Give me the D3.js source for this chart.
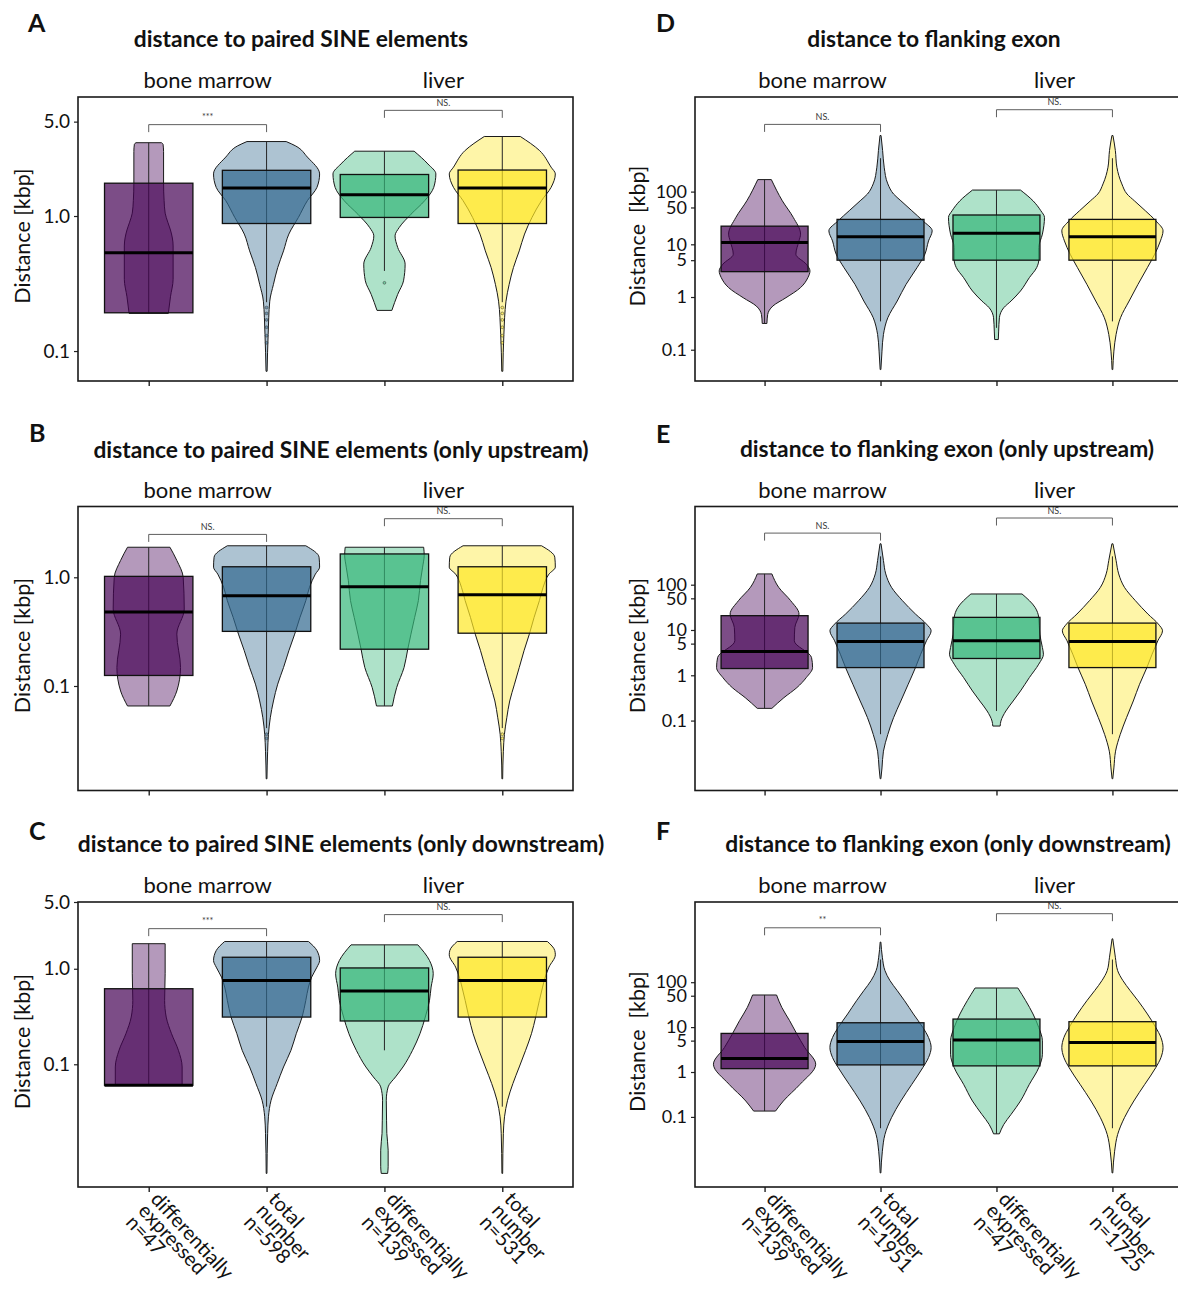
<!DOCTYPE html>
<html>
<head>
<meta charset="utf-8">
<script src="https://cdn.jsdelivr.net/npm/d3@7"></script>
<style>
  body { margin: 0; background: #fff; }
  svg text { font-family: Lato, "Open Sans", sans-serif; fill: #111; }
</style>
</head>
<body>
<svg id="fig" width="1178" height="1290"></svg>
<script>
// ---------------- data ----------------
const groupColors = ["#440154", "#31688E", "#35B779", "#FDE725"];
const tissues = ["bone marrow", "liver"];
const groups = ["bm_de", "bm_total", "liver_de", "liver_total"];

const xLabelsSINE = [
  ["differentially", "expressed", "n=47"],
  ["total", "number", "n=598"],
  ["differentially", "expressed", "n=139"],
  ["total", "number", "n=531"]
];
const xLabelsExon = [
  ["differentially", "expressed", "n=139"],
  ["total", "number", "n=1951"],
  ["differentially", "expressed", "n=47"],
  ["total", "number", "n=1725"]
];

const yTicksSINE = [0.1, 1.0, 5.0];
const yTicksSINEUp = [0.1, 1.0];
const yTicksExon = [0.1, 1, 5, 10, 50, 100];

// box statistics per group, kbp: [lower whisker, Q1, median, Q3, upper whisker]
const boxA = [[0.19, 0.192, 0.535, 1.75, 3.49], [0.23, 0.88, 1.61, 2.18, 3.56], [0.392, 0.976, 1.44, 2.03, 3.02], [0.23, 0.88, 1.61, 2.19, 3.88]];
const boxB = [[0.0655, 0.125, 0.48, 1.02, 1.89], [0.041, 0.318, 0.677, 1.25, 1.95], [0.0655, 0.218, 0.82, 1.64, 1.89], [0.041, 0.306, 0.69, 1.25, 1.95]];
const boxC = [[0.0603, 0.0603, 0.0603, 0.618, 1.83], [0.036, 0.312, 0.755, 1.32, 1.93], [0.14, 0.284, 0.585, 1.02, 1.78], [0.036, 0.312, 0.755, 1.32, 1.93]];
const boxD = [[0.315, 3.03, 10.8, 22.1, 169], [0.345, 5.0, 13.9, 29.7, 430], [0.26, 5.0, 16.3, 36, 107], [0.345, 5.0, 13.9, 29.7, 430]];
const boxE = [[0.186, 1.41, 3.35, 20.7, 173], [0.05, 1.48, 5.57, 14.2, 422], [0.163, 2.35, 5.78, 19, 62.4], [0.05, 1.48, 5.57, 14.2, 422]];
const boxF = [[0.135, 1.19, 2.0, 7.24, 51.9], [0.056, 1.44, 4.78, 12.5, 320], [0.042, 1.37, 5.13, 15.1, 74.3], [0.056, 1.37, 4.54, 13.2, 320]];

// violin outlines per group: [distance kbp, relative density]
const violinA = [
  [[3.49, 0.24], [3.4, 0.27], [3.0, 0.28], [1.75, 0.28], [1.3, 0.29], [1.05, 0.31], [0.9, 0.36], [0.788, 0.41], [0.6, 0.46], [0.34, 0.46], [0.252, 0.41], [0.19, 0.37]],
  [[3.56, 0.37], [3.3, 0.55], [2.73, 0.77], [2.05, 1.0], [1.63, 0.95], [1.30, 0.77], [0.976, 0.6], [0.735, 0.42], [0.552, 0.32], [0.415, 0.21], [0.312, 0.13], [0.234, 0.06], [0.133, 0.03], [0.0708, 0.01]],
  [[3.02, 0.56], [2.43, 0.82], [2.05, 0.97], [1.63, 0.93], [1.30, 0.76], [1.03, 0.5], [0.823, 0.28], [0.713, 0.2], [0.585, 0.25], [0.44, 0.39], [0.331, 0.36], [0.263, 0.25], [0.2, 0.14]],
  [[3.88, 0.34], [3.06, 0.7], [2.3, 0.92], [2.05, 1.0], [1.63, 0.92], [1.30, 0.74], [0.976, 0.56], [0.735, 0.42], [0.552, 0.32], [0.415, 0.21], [0.312, 0.13], [0.234, 0.07], [0.133, 0.03], [0.0708, 0.01]]
];
const violinB = [
  [[1.89, 0.40], [1.43, 0.53], [1.0, 0.65], [0.511, 0.67], [0.30, 0.53], [0.148, 0.6], [0.09, 0.53], [0.0655, 0.40]],
  [[1.95, 0.74], [1.53, 0.99], [1.24, 1.0], [1.07, 0.92], [0.81, 0.81], [0.61, 0.74], [0.428, 0.63], [0.30, 0.53], [0.211, 0.42], [0.148, 0.32], [0.104, 0.21], [0.0728, 0.13], [0.051, 0.07], [0.0359, 0.035], [0.0251, 0.02], [0.014, 0.007]],
  [[1.89, 0.74], [1.6, 0.75], [1.24, 0.72], [0.93, 0.68], [0.61, 0.64], [0.428, 0.57], [0.30, 0.5], [0.218, 0.44], [0.148, 0.37], [0.0966, 0.23], [0.0655, 0.15]],
  [[1.95, 0.74], [1.53, 0.99], [1.24, 1.0], [1.07, 0.88], [0.81, 0.77], [0.61, 0.7], [0.428, 0.6], [0.30, 0.51], [0.211, 0.41], [0.148, 0.32], [0.104, 0.23], [0.0728, 0.14], [0.051, 0.085], [0.0359, 0.04], [0.0251, 0.02], [0.014, 0.007]]
];
const violinC = [
  [[1.83, 0.31], [0.887, 0.31], [0.467, 0.3], [0.312, 0.33], [0.209, 0.43], [0.14, 0.56], [0.0937, 0.63], [0.0603, 0.63]],
  [[1.93, 0.79], [1.55, 0.95], [1.22, 1.0], [1.04, 0.95], [0.818, 0.85], [0.643, 0.79], [0.467, 0.74], [0.312, 0.67], [0.209, 0.56], [0.14, 0.46], [0.0937, 0.32], [0.0628, 0.2], [0.042, 0.085], [0.0282, 0.035], [0.0189, 0.02], [0.0072, 0.007]],
  [[1.78, 0.63], [1.22, 0.85], [0.887, 0.92], [0.643, 0.88], [0.467, 0.85], [0.312, 0.77], [0.209, 0.67], [0.14, 0.53], [0.0937, 0.35], [0.0738, 0.21], [0.058, 0.07], [0.042, 0.035], [0.026, 0.04], [0.0189, 0.045], [0.0126, 0.07], [0.00845, 0.07], [0.0072, 0.06]],
  [[1.93, 0.85], [1.55, 0.99], [1.40, 1.0], [1.04, 0.88], [0.818, 0.81], [0.643, 0.76], [0.467, 0.7], [0.312, 0.63], [0.209, 0.55], [0.14, 0.44], [0.0937, 0.32], [0.0628, 0.2], [0.042, 0.1], [0.0282, 0.042], [0.0189, 0.02], [0.0072, 0.007]]
];
const violinD = [
  [[169, 0.13], [67, 0.34], [32.4, 0.55], [15.6, 0.69], [11.6, 0.66], [6.49, 0.6], [4.19, 0.8], [3.13, 0.87], [2.33, 0.83], [1.51, 0.69], [0.97, 0.41], [0.676, 0.16], [0.468, 0.06], [0.315, 0.045]],
  [[1160, 0.01], [602, 0.04], [290, 0.07], [140, 0.14], [90, 0.25], [67, 0.39], [43.4, 0.6], [28, 0.81], [18, 0.99], [11.6, 0.92], [6.49, 0.85], [3.61, 0.7], [1.74, 0.49], [0.84, 0.32], [0.405, 0.14], [0.195, 0.056], [0.094, 0.028], [0.042, 0.007]],
  [[107, 0.46], [67, 0.7], [43.4, 0.85], [32.4, 0.92], [15.6, 0.88], [8.7, 0.81], [5.0, 0.81], [3.61, 0.77], [2.33, 0.63], [1.3, 0.46], [0.84, 0.28], [0.627, 0.14], [0.405, 0.056], [0.226, 0.042], [0.156, 0.035]],
  [[1160, 0.01], [602, 0.056], [290, 0.085], [140, 0.18], [90, 0.28], [67, 0.42], [43.4, 0.63], [28, 0.83], [18, 0.97], [11.6, 0.92], [6.49, 0.81], [3.61, 0.67], [1.74, 0.49], [0.84, 0.32], [0.405, 0.155], [0.195, 0.07], [0.094, 0.028], [0.042, 0.007]]
];
const violinE = [
  [[173, 0.14], [87.6, 0.27], [44.4, 0.5], [22.5, 0.66], [11.4, 0.58], [5.78, 0.57], [2.47, 0.9], [1.48, 0.92], [0.89, 0.8], [0.535, 0.62], [0.32, 0.37], [0.186, 0.14]],
  [[800, 0.01], [342, 0.056], [173, 0.1], [87.6, 0.21], [44.4, 0.42], [22.5, 0.67], [13.5, 0.88], [9.6, 0.97], [5.78, 0.88], [2.92, 0.77], [1.48, 0.67], [0.633, 0.53], [0.271, 0.39], [0.116, 0.25], [0.0496, 0.14], [0.0211, 0.056], [0.009, 0.028], [0.0052, 0.007]],
  [[62.4, 0.49], [31.5, 0.74], [19, 0.81], [8.1, 0.83], [4.11, 0.88], [2.92, 0.9], [1.76, 0.81], [0.89, 0.63], [0.45, 0.46], [0.271, 0.32], [0.163, 0.18], [0.0975, 0.085], [0.0757, 0.07]],
  [[800, 0.01], [342, 0.07], [173, 0.12], [87.6, 0.23], [44.4, 0.44], [22.5, 0.68], [13.5, 0.88], [9.6, 0.96], [5.78, 0.87], [2.92, 0.76], [1.48, 0.66], [0.633, 0.52], [0.271, 0.4], [0.116, 0.27], [0.0496, 0.15], [0.0211, 0.06], [0.009, 0.028], [0.0052, 0.007]]
];
const violinF = [
  [[51.9, 0.23], [27.5, 0.33], [13.9, 0.48], [6.98, 0.62], [3.51, 0.77], [1.49, 0.98], [0.532, 0.68], [0.226, 0.36], [0.135, 0.21]],
  [[782, 0.007], [360, 0.035], [181, 0.085], [109, 0.18], [65, 0.32], [38.7, 0.46], [19.6, 0.63], [9.84, 0.81], [5.86, 0.92], [3.51, 0.97], [2.1, 0.92], [1.25, 0.81], [0.532, 0.6], [0.226, 0.39], [0.096, 0.21], [0.0407, 0.085], [0.0172, 0.035], [0.00566, 0.007]],
  [[74.3, 0.41], [38.7, 0.56], [19.6, 0.7], [9.84, 0.81], [4.95, 0.88], [2.49, 0.88], [1.25, 0.81], [0.532, 0.63], [0.226, 0.46], [0.114, 0.28], [0.068, 0.14], [0.042, 0.056]],
  [[926, 0.007], [360, 0.056], [181, 0.1], [109, 0.2], [65, 0.34], [38.7, 0.49], [19.6, 0.67], [9.84, 0.83], [5.86, 0.93], [3.51, 0.97], [2.1, 0.93], [1.25, 0.83], [0.532, 0.62], [0.226, 0.41], [0.096, 0.23], [0.0407, 0.1], [0.0172, 0.042], [0.00566, 0.007]]
];

// outlying observations per group, kbp
const outliersA = [[], [0.21, 0.19, 0.17, 0.15, 0.13, 0.115], [0.32], [0.21, 0.19, 0.17, 0.15, 0.13, 0.115]];
const outliersB = [[], [0.036, 0.033], [], [0.036, 0.033]];

// significance brackets: [group i, group j, height kbp, label]
const sigA = [[0, 1, 4.75, "***"], [2, 3, 6.06, "NS."]];
const sigB = [[0, 1, 2.48, "NS."], [2, 3, 3.46, "NS."]];
const sigC = [[0, 1, 2.63, "***"], [2, 3, 3.69, "NS."]];
const sigD = [[0, 1, 1884, "NS."], [2, 3, 3580, "NS."]];
const sigE = [[0, 1, 1377, "NS."], [2, 3, 2966, "NS."]];
const sigF = [[0, 1, 1628, "**"], [2, 3, 3355, "NS."]];

// ---------------- layout ----------------
const fmtSINE = d3.format(".1f");
const fmtExon = d => d < 1 ? d3.format(".1f")(d) : d3.format("d")(d);

const panels = [
  { letter: "A", title: "distance to paired SINE elements", box: boxA, violin: violinA, out: outliersA, sig: sigA,
    ticks: yTicksSINE, fmt: fmtSINE, tickSize: 19, domain: [0.06, 7.61], x0: 78, x1: 573, top: 97, bottom: 381,
    letterPos: [28, 32], titlePos: [301, 47], yTitle: "Distance [kbp]", yTitleX: 30 },
  { letter: "B", title: "distance to paired SINE elements (only upstream)", box: boxB, violin: violinB, out: outliersB, sig: sigB,
    ticks: yTicksSINEUp, fmt: fmtSINE, tickSize: 19, domain: [0.01093, 4.48], x0: 78, x1: 573, top: 506.5, bottom: 790.5,
    letterPos: [29, 442], titlePos: [341, 458], yTitle: "Distance [kbp]", yTitleX: 30 },
  { letter: "C", title: "distance to paired SINE elements (only downstream)", box: boxC, violin: violinC, out: null, sig: sigC,
    ticks: yTicksSINE, fmt: fmtSINE, tickSize: 19, domain: [0.00519, 5.0], x0: 78, x1: 573, top: 902, bottom: 1187,
    letterPos: [29, 840], titlePos: [341, 852], yTitle: "Distance [kbp]", yTitleX: 30, xLabels: xLabelsSINE },
  { letter: "D", title: "distance to flanking exon", box: boxD, violin: violinD, out: null, sig: sigD,
    ticks: yTicksExon, fmt: fmtExon, tickSize: 18, domain: [0.0255, 6237], x0: 695, x1: 1182, top: 97, bottom: 381,
    letterPos: [656, 32], titlePos: [934, 47], yTitle: "Distance  [kbp]", yTitleX: 645 },
  { letter: "E", title: "distance to flanking exon (only upstream)", box: boxE, violin: violinE, out: null, sig: sigE,
    ticks: yTicksExon, fmt: fmtExon, tickSize: 18, domain: [0.00286, 5325], x0: 695, x1: 1182, top: 506.5, bottom: 790.5,
    letterPos: [656, 443], titlePos: [947, 457], yTitle: "Distance [kbp]", yTitleX: 645 },
  { letter: "F", title: "distance to flanking exon (only downstream)", box: boxF, violin: violinF, out: null, sig: sigF,
    ticks: yTicksExon, fmt: fmtExon, tickSize: 18, domain: [0.00275, 6110], x0: 695, x1: 1182, top: 902, bottom: 1187,
    letterPos: [656, 840], titlePos: [948, 852], yTitle: "Distance  [kbp]", yTitleX: 645, xLabels: xLabelsExon }
];

const svg = d3.select("#fig");

panels.forEach(p => {
  const g = svg.append("g");
  const x = d3.scalePoint().domain(groups).range([p.x0, p.x1]).padding(0.6);
  const y = d3.scaleLog().domain(p.domain).range([p.bottom, p.top]);
  const step = x.step();
  const maxHalf = step * 0.45;
  const boxW = step * 0.75;

  // panel letter and title
  g.append("text").attr("x", p.letterPos[0]).attr("y", p.letterPos[1])
    .attr("font-size", 25).attr("font-weight", 700).text(p.letter);
  g.append("text").attr("x", p.titlePos[0]).attr("y", p.titlePos[1])
    .attr("text-anchor", "middle").attr("font-size", 22.8).attr("font-weight", 700).text(p.title);

  // facet strip labels
  tissues.forEach((t, i) => {
    const cx = (x(groups[2 * i]) + x(groups[2 * i + 1])) / 2;
    g.append("text").attr("x", cx).attr("y", p.top - 9)
      .attr("text-anchor", "middle").attr("font-size", 22).text(t);
  });

  // clip plot contents to the panel
  const clipId = "clip" + p.letter;
  g.append("clipPath").attr("id", clipId).append("rect")
    .attr("x", p.x0).attr("y", p.top).attr("width", p.x1 - p.x0).attr("height", p.bottom - p.top);
  const plot = g.append("g").attr("clip-path", `url(#${clipId})`);

  // violins
  groups.forEach((k, i) => {
    const cx = x(k);
    const prof = p.violin[i].slice().sort((a, b) => b[0] - a[0]);
    const area = d3.area().curve(d3.curveMonotoneY)
      .y(d => y(d[0]))
      .x0(d => cx - d[1] * maxHalf)
      .x1(d => cx + d[1] * maxHalf);
    plot.append("path").attr("d", area(prof))
      .attr("fill", groupColors[i]).attr("fill-opacity", 0.4)
      .attr("stroke", "#1a1a1a").attr("stroke-width", 1);
  });

  // whiskers, outliers and boxes
  groups.forEach((k, i) => {
    const cx = x(k);
    const [lo, q1, med, q3, hi] = p.box[i];
    plot.append("line").attr("x1", cx).attr("x2", cx).attr("y1", y(hi)).attr("y2", y(lo))
      .attr("stroke", "#262626").attr("stroke-width", 1);
    if (p.out) {
      p.out[i].forEach(v => {
        plot.append("circle").attr("cx", cx).attr("cy", y(v)).attr("r", 1.4)
          .attr("fill", groupColors[i]).attr("fill-opacity", 0.5)
          .attr("stroke", "#333").attr("stroke-width", 0.5);
      });
    }
    plot.append("rect").attr("x", cx - boxW / 2).attr("y", y(q3))
      .attr("width", boxW).attr("height", Math.max(0.5, y(q1) - y(q3)))
      .attr("fill", groupColors[i]).attr("fill-opacity", 0.7)
      .attr("stroke", "#111").attr("stroke-width", 1.3);
    plot.append("line").attr("x1", cx - boxW / 2).attr("x2", cx + boxW / 2)
      .attr("y1", y(med)).attr("y2", y(med))
      .attr("stroke", "#000").attr("stroke-width", 3);
  });

  // significance brackets
  p.sig.forEach(([a, b, h, lab]) => {
    const xa = x(groups[a]), xb = x(groups[b]), yy = y(h);
    g.append("path").attr("d", `M${xa},${yy + 7.5}V${yy}H${xb}V${yy + 7.5}`)
      .attr("fill", "none").attr("stroke", "#4d4d4d").attr("stroke-width", 0.9);
    g.append("text").attr("x", (xa + xb) / 2).attr("y", yy - 4.5)
      .attr("text-anchor", "middle").attr("font-size", 9).style("fill", "#3a3a3a").text(lab);
  });

  // axes
  const yAxis = d3.axisLeft(y).tickValues(p.ticks).tickFormat(p.fmt).tickSize(4).tickPadding(4);
  const ya = g.append("g").attr("transform", `translate(${p.x0},0)`).call(yAxis);
  ya.select(".domain").remove();
  ya.selectAll(".tick line").attr("stroke", "#222").attr("stroke-width", 1.2);
  ya.selectAll(".tick text").attr("font-size", p.tickSize)
    .style("font-family", "Lato, 'Open Sans', sans-serif").style("fill", "#111");

  const xAxis = d3.axisBottom(x).tickSize(5).tickFormat("");
  const xa = g.append("g").attr("transform", `translate(0,${p.bottom})`).call(xAxis);
  xa.select(".domain").remove();
  xa.selectAll(".tick line").attr("stroke", "#222").attr("stroke-width", 1.4);

  if (p.xLabels) {
    groups.forEach((k, i) => {
      const lg = g.append("g").attr("transform", `translate(${x(k) + 1},${p.bottom + 13}) rotate(47)`);
      p.xLabels[i].forEach((line, j) => {
        lg.append("text").attr("x", 0).attr("y", j * 17)
          .attr("font-size", 20).text(line);
      });
    });
  }

  // panel frame
  g.append("rect").attr("x", p.x0).attr("y", p.top)
    .attr("width", p.x1 - p.x0).attr("height", p.bottom - p.top)
    .attr("fill", "none").attr("stroke", "#1a1a1a").attr("stroke-width", 1.6);

  // y axis title
  g.append("text")
    .attr("transform", `translate(${p.yTitleX},${(p.top + p.bottom) / 2 - 3}) rotate(-90)`)
    .attr("text-anchor", "middle").attr("font-size", 21.5)
    .style("white-space", "pre").text(p.yTitle);
});
</script>
</body>
</html>
